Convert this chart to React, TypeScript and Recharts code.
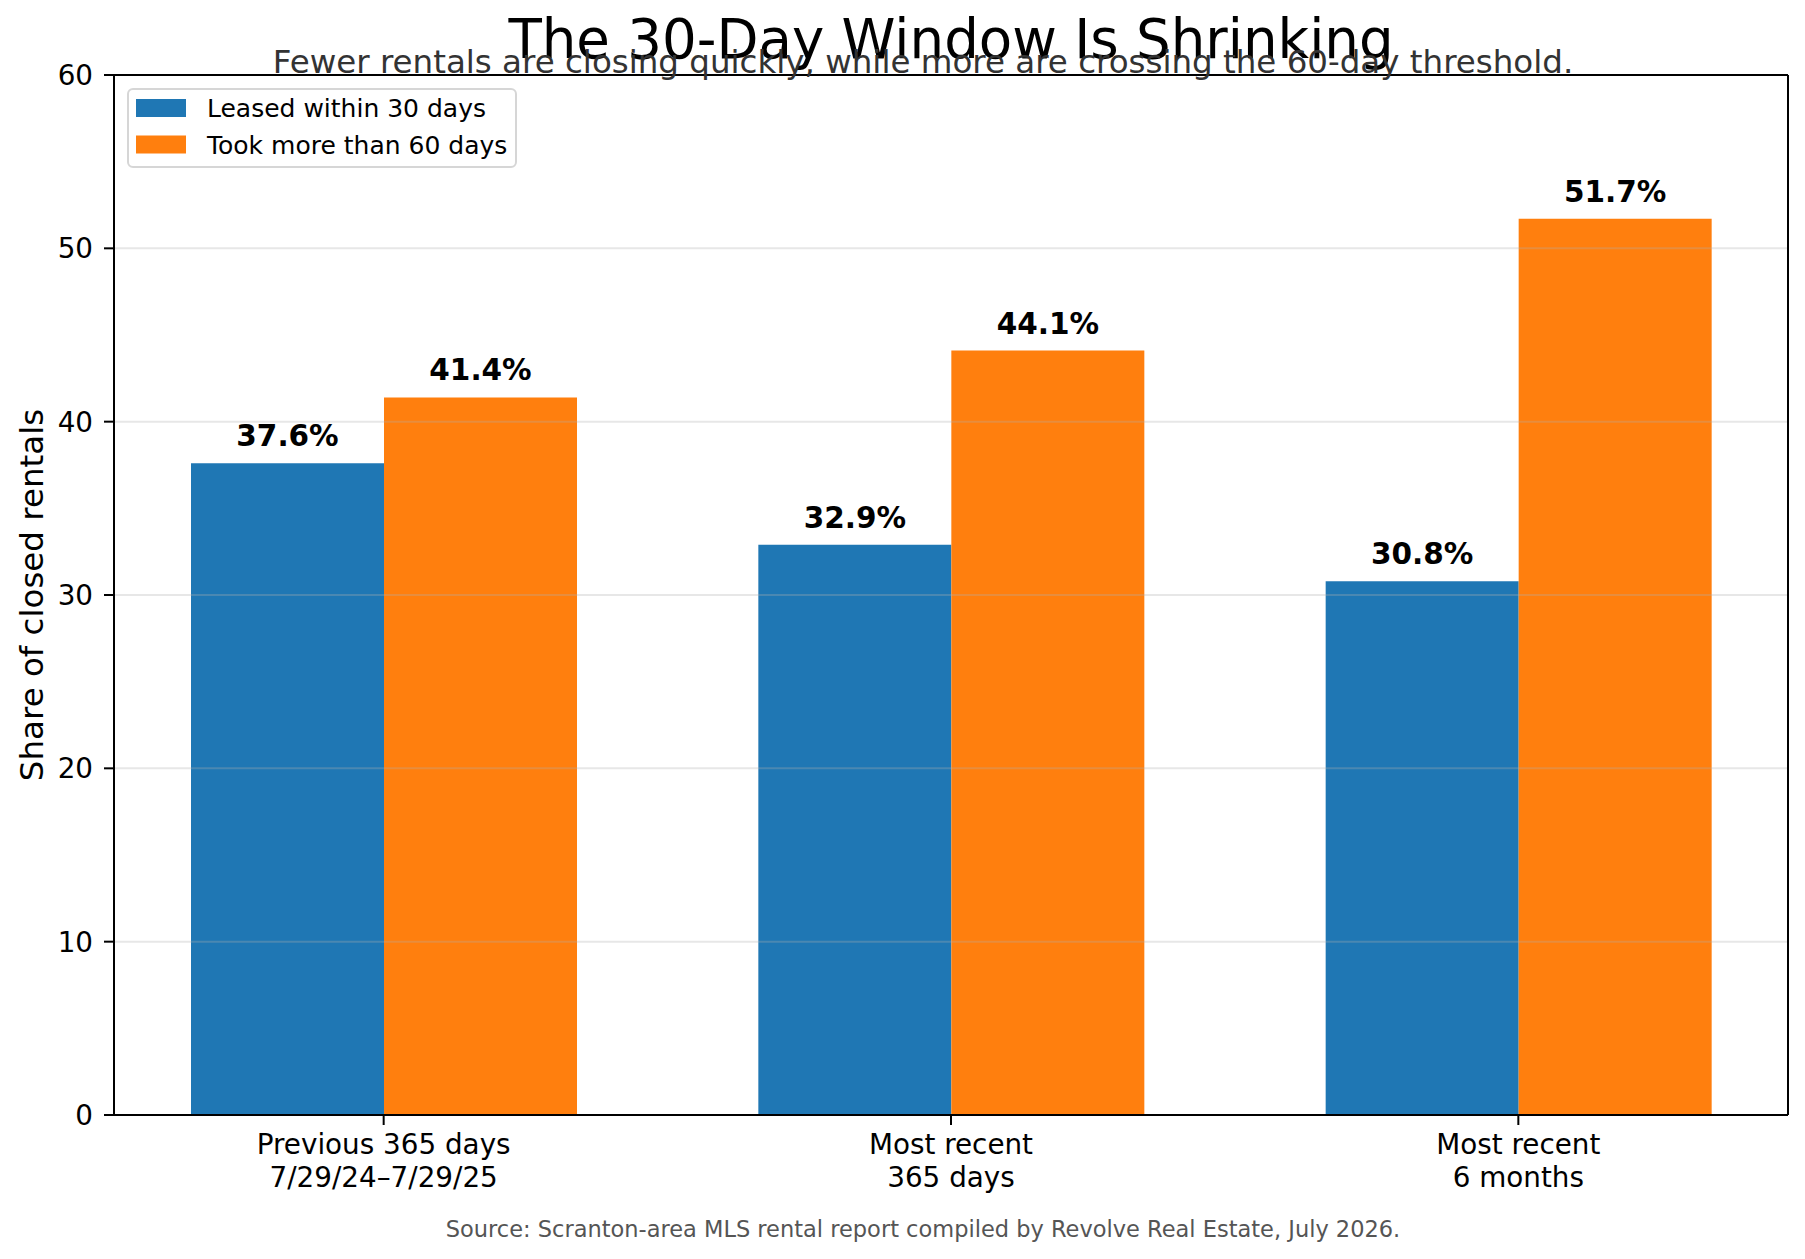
import React from 'react';
import { BarChart, Bar, XAxis, YAxis, ReferenceLine, Legend, LabelList } from 'recharts';

const categories = ['Previous 365 days\n7/29/24–7/29/25', 'Most recent\n365 days', 'Most recent\n6 months'];
const leasedWithin30 = [37.6, 32.9, 30.8];
const tookOver60 = [41.4, 44.1, 51.7];
const yTicks = [0, 10, 20, 30, 40, 50, 60];
const seriesNames = ['Leased within 30 days', 'Took more than 60 days'];
const seriesColors = ['#1f77b4', '#ff7f0e'];
const titleText = 'The 30-Day Window Is Shrinking';
const subtitleText = 'Fewer rentals are closing quickly, while more are crossing the 60-day threshold.';
const sourceText = 'Source: Scranton-area MLS rental report compiled by Revolve Real Estate, July 2026.';
const yLabelText = 'Share of closed rentals';

const data = categories.map((c, i) => ({ category: c, leased: leasedWithin30[i], over60: tookOver60[i] }));

const FONT = '"DejaVu Sans", sans-serif';

const XTick = (props: any) => {
  const { x, y, payload } = props;
  const lines = String(payload.value).split('\n');
  return (
    <text x={x} y={y} textAnchor="middle" fontFamily={FONT} fontSize={27.8} fill="#000">
      {lines.map((l, i) => (
        <tspan key={i} x={x} y={Number(y) + 29 + i * 33}>{l}</tspan>
      ))}
    </text>
  );
};

const valueLabel = (props: any) => {
  const { x, y, width, value } = props;
  return (
    <text x={Number(x) + Number(width) / 2} y={Number(y) - 17} textAnchor="middle" fontFamily={FONT}
      fontWeight="bold" fontSize={29.5} fill="#000">{`${Number(value).toFixed(1)}%`}</text>
  );
};

const renderLegend = (props: any) => {
  const payload = props.payload || [];
  return (
    <svg width={390} height={80} style={{ display: 'block' }}>
      <rect x={1} y={1} width={388} height={78} rx={5} fill="#fff" fillOpacity={0.8} stroke="#d6d6d6" strokeWidth={2} />
      {payload.map((p: any, i: number) => (
        <g key={i}>
          <rect x={9} y={11 + i * 36.5} width={50} height={18} fill={p.color} />
          <text x={80} y={29 + i * 36.5} fontFamily={FONT} fontSize={25} fill="#000">{p.value}</text>
        </g>
      ))}
    </svg>
  );
};

export default function App() {
  return (
    <div style={{ position: 'absolute', left: 0, top: 0, width: 1805, height: 1259, background: '#fff' }}>
      <BarChart width={1805} height={1259} data={data} barGap={0}
        margin={{ top: 74, right: 16, left: 0, bottom: 44 }}>
        <XAxis dataKey="category" type="category" height={100} padding={{ left: -14, right: -14 }}
          tick={<XTick />} tickSize={10} tickMargin={0} interval={0}
          tickLine={{ stroke: '#000', strokeWidth: 2 }} axisLine={{ stroke: '#000', strokeWidth: 2 }} />
        <XAxis xAxisId="top" dataKey="category" type="category" orientation="top" height={1} tick={false} tickLine={false}
          axisLine={{ stroke: '#000', strokeWidth: 2 }} />
        <YAxis type="number" domain={[0, 60]} ticks={yTicks} width={114} interval={0}
          tick={{ fontSize: 27.8, fill: '#000', fontFamily: FONT }} tickSize={10} tickMargin={11}
          tickLine={{ stroke: '#000', strokeWidth: 2 }} axisLine={{ stroke: '#000', strokeWidth: 2 }} />
        <YAxis yAxisId="right" type="number" domain={[0, 60]} orientation="right" width={1} tick={false} tickLine={false}
          axisLine={{ stroke: '#000', strokeWidth: 2 }} />
        <Bar dataKey="leased" name={seriesNames[0]} fill={seriesColors[0]} barSize={193} isAnimationActive={false}>
          <LabelList dataKey="leased" content={valueLabel} />
        </Bar>
        <Bar dataKey="over60" name={seriesNames[1]} fill={seriesColors[1]} barSize={193} isAnimationActive={false}>
          <LabelList dataKey="over60" content={valueLabel} />
        </Bar>
        {yTicks.filter(v => v > 0 && v < 60).map(v => (
          <ReferenceLine key={v} y={v} stroke="#b0b0b0" strokeOpacity={0.3} strokeWidth={2} ifOverflow="hidden" />
        ))}
        <Legend layout="horizontal" verticalAlign="middle" align="center" content={renderLegend}
          wrapperStyle={{ position: 'absolute', left: 127, top: 88, width: 390, height: 80 }} />
      </BarChart>
      <svg width={1805} height={1259} style={{ position: 'absolute', left: 0, top: 0, pointerEvents: 'none' }}>
        <text x={951} y={58} textAnchor="middle" fontFamily={FONT} fontSize={54.6} fill="#000">{titleText}</text>
        <text x={923} y={73} textAnchor="middle" fontFamily={FONT} fontSize={32.5} fill="#333">{subtitleText}</text>
        <text x={923} y={1237} textAnchor="middle" fontFamily={FONT} fontSize={22.5} fill="#555">{sourceText}</text>
        <text x={43} y={595} textAnchor="middle" fontFamily={FONT} fontSize={32.5} fill="#000"
          transform="rotate(-90 43 595)">{yLabelText}</text>
      </svg>
    </div>
  );
}
